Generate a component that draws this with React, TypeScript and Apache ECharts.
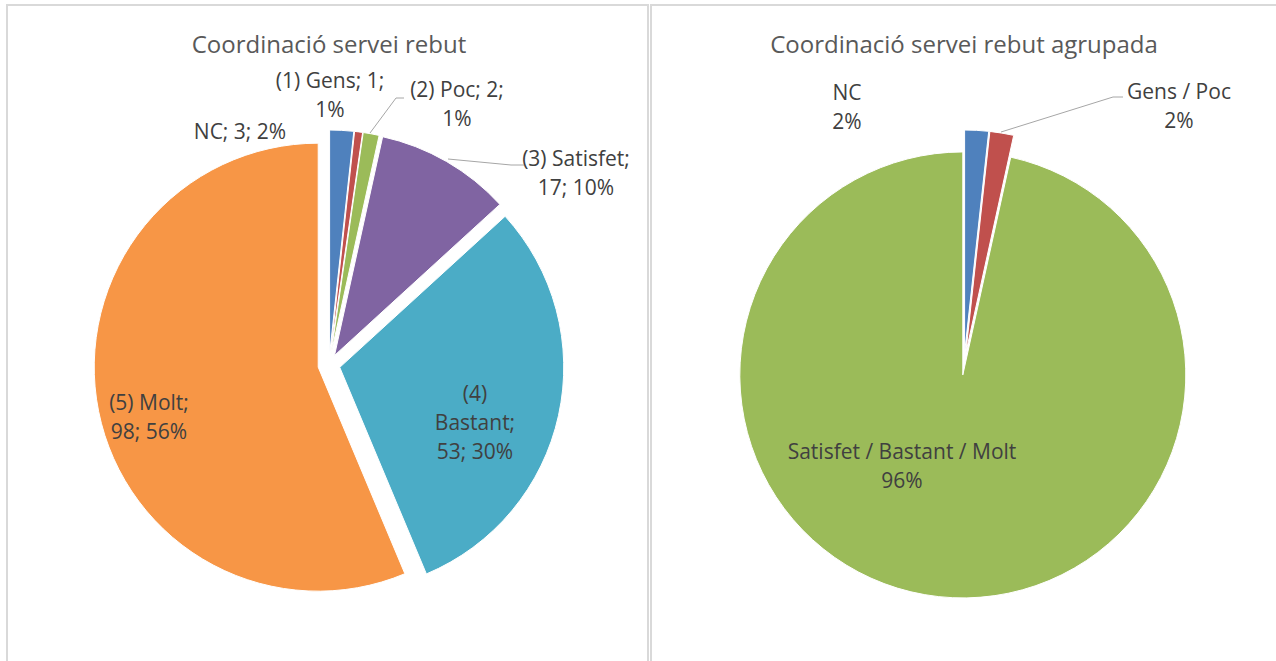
import React, { useEffect, useRef } from "react";
import * as echarts from "echarts";

// ---- data ----
const leftTitle = "Coordinació servei rebut";
const rightTitle = "Coordinació servei rebut agrupada";

const leftCategories = ["NC", "(1) Gens", "(2) Poc", "(3) Satisfet", "(4) Bastant", "(5) Molt"];
const leftValues = [3, 1, 2, 17, 53, 98];

const rightCategories = ["NC", "Gens / Poc", "Satisfet / Bastant / Molt"];
const rightValues = [3, 3, 168];

// ---- styles / layout ----
const leftColors = ["#4F81BD", "#C0504D", "#9BBB59", "#8064A2", "#4BACC6", "#F79646"];
const rightColors = ["#4F81BD", "#C0504D", "#9BBB59"];

// label line-break pattern: [break inside name, break after name, break after value]
const leftBreaks = [
  [false, false, false],
  [false, false, true],
  [false, false, true],
  [false, true, false],
  [true, true, false],
  [false, true, false],
];
const leftLabelPos = [
  [240, 131],
  [330, 94],
  [457, 103],
  [576, 172],
  [475, 422],
  [149, 416],
];
const leftLeader: (number[][] | null)[] = [
  null,
  null,
  [[370, 133], [396, 98], [404, 98]],
  [[448, 159], [511, 165], [524, 165]],
  null,
  null,
];
const rightLabelPos = [
  [847, 106],
  [1179, 105],
  [902, 465],
];
const rightLeader: (number[][] | null)[] = [
  null,
  [[1001, 132], [1113, 97], [1123, 97]],
  null,
];

const FONT = '"Open Sans", "Noto Sans", sans-serif';
const LABEL_COLOR = "#404040";

// largest-remainder integer percentages (same method as ECharts' {d})
function percents(values: number[]): number[] {
  const sum = values.reduce((a, b) => a + b, 0);
  const raw = values.map((v) => (v / sum) * 100);
  const seats = raw.map((r) => Math.floor(r));
  const rem = raw.map((r, i) => r - seats[i]);
  let cur = seats.reduce((a, b) => a + b, 0);
  while (cur < 100) {
    let mi = 0;
    for (let i = 1; i < rem.length; i++) if (rem[i] > rem[mi]) mi = i;
    seats[mi]++;
    rem[mi] = -1;
    cur++;
  }
  return seats;
}

function leftLabelText(i: number, pct: number[]) {
  const b = leftBreaks[i];
  let name = leftCategories[i];
  if (b[0]) name = name.replace(" ", "\n");
  return name + ";" + (b[1] ? "\n" : " ") + leftValues[i] + ";" + (b[2] ? "\n" : " ") + pct[i] + "%";
}
function rightLabelText(i: number, pct: number[]) {
  return rightCategories[i] + "\n" + pct[i] + "%";
}

function labelGraphic(text: string, pos: number[]) {
  return {
    type: "text",
    silent: true,
    x: pos[0],
    y: pos[1],
    z: 10,
    style: {
      text,
      fontFamily: FONT,
      fontSize: 21,
      lineHeight: 29,
      fill: LABEL_COLOR,
      align: "center",
      verticalAlign: "middle",
    },
  };
}
function leaderGraphic(points: number[][]) {
  return {
    type: "polyline",
    silent: true,
    z: 10,
    shape: { points },
    style: { stroke: "#A6A6A6", lineWidth: 1, fill: "none" },
  };
}

function makeOption(): any {
  const leftPct = percents(leftValues);
  const rightPct = percents(rightValues);

  const baseSeries = {
    type: "pie",
    startAngle: 90,
    clockwise: true,
    selectedMode: "multiple",
    selectedOffset: 11,
    avoidLabelOverlap: false,
    emphasis: { disabled: true, scale: false },
    select: { itemStyle: { borderColor: "#ffffff", borderWidth: 1 } },
    itemStyle: { borderColor: "#ffffff", borderWidth: 1 },
    label: { show: false },
    labelLine: { show: false },
  };

  const graphics: any[] = [
    {
      type: "rect",
      silent: true,
      shape: { x: 7, y: 5, width: 641, height: 720 },
      style: { fill: "none", stroke: "#D9D9D9", lineWidth: 2 },
    },
    {
      type: "rect",
      silent: true,
      shape: { x: 651, y: 5, width: 720, height: 720 },
      style: { fill: "none", stroke: "#D9D9D9", lineWidth: 2 },
    },
    {
      type: "text",
      silent: true,
      x: 329,
      y: 43,
      style: { text: leftTitle, fontFamily: FONT, fontSize: 24, fill: "#595959", align: "center", verticalAlign: "middle" },
    },
    {
      type: "text",
      silent: true,
      x: 964,
      y: 43,
      style: { text: rightTitle, fontFamily: FONT, fontSize: 24, fill: "#595959", align: "center", verticalAlign: "middle" },
    },
  ];
  leftCategories.forEach((_, i) => {
    graphics.push(labelGraphic(leftLabelText(i, leftPct), leftLabelPos[i]));
    const ll = leftLeader[i];
    if (ll) graphics.push(leaderGraphic(ll));
  });
  rightCategories.forEach((_, i) => {
    graphics.push(labelGraphic(rightLabelText(i, rightPct), rightLabelPos[i]));
    const ll = rightLeader[i];
    if (ll) graphics.push(leaderGraphic(ll));
  });

  return {
    animation: false,
    backgroundColor: "#ffffff",
    graphic: graphics,
    series: [
      {
        ...baseSeries,
        name: leftTitle,
        center: [329, 365],
        radius: 224,
        z: 2,
        data: leftCategories.map((c, i) => ({
          name: c,
          value: leftValues[i],
          selected: true,
          itemStyle: { color: leftColors[i] },
        })),
      },
      {
        ...baseSeries,
        name: rightTitle,
        center: [964, 364],
        radius: 223,
        z: 2,
        data: rightCategories.map((c, i) => ({
          name: c,
          value: rightValues[i],
          selected: true,
          itemStyle: { color: rightColors[i] },
        })),
      },
    ],
  };
}

export default function App() {
  const ref = useRef<HTMLDivElement>(null);
  useEffect(() => {
    const chart = echarts.init(ref.current!, undefined, { renderer: "svg" });
    chart.setOption(makeOption());
    return () => chart.dispose();
  }, []);
  return (
    <div
      ref={ref}
      style={{ position: "fixed", left: 0, top: 0, width: 1276, height: 661, background: "#ffffff" }}
    />
  );
}
